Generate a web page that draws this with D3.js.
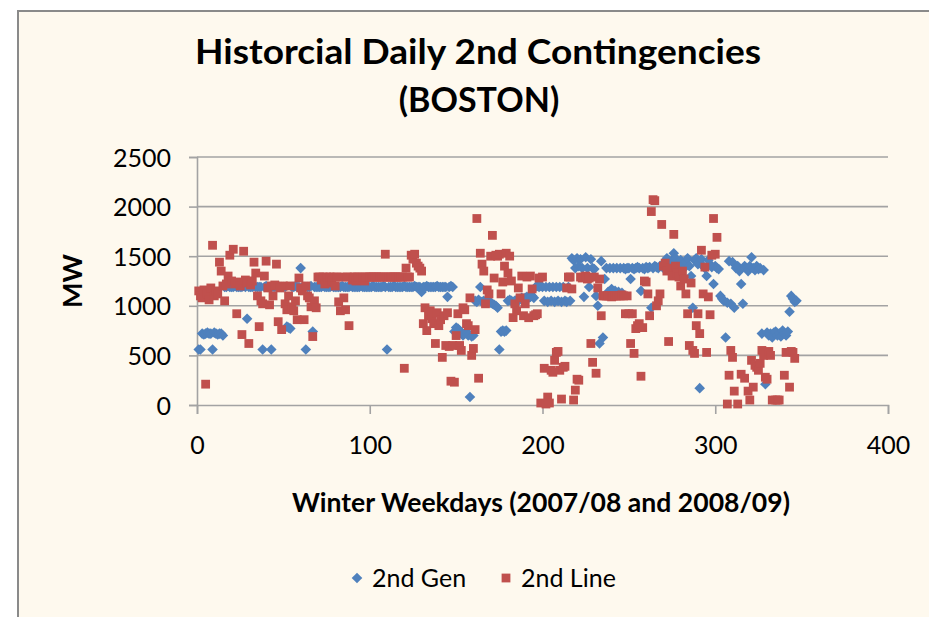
<!DOCTYPE html>
<html><head><meta charset="utf-8">
<script src="https://cdn.jsdelivr.net/npm/d3@7"></script>
<style>
html,body{margin:0;padding:0;background:#fff;}
svg{display:block;}
text{font-family:Lato,"Open Sans",sans-serif;fill:#000;}
</style></head>
<body><svg id="chart" width="929" height="617"></svg>
<script>
const titleLines = ["Historcial Daily 2nd Contingencies", "(BOSTON)"];
const xTitle = "Winter Weekdays (2007/08 and 2008/09)";
const yTitle = "MW";
const xTicks = [0, 100, 200, 300, 400];
const yTicks = [0, 500, 1000, 1500, 2000, 2500];
const seriesNames = ["2nd Gen", "2nd Line"];

// 2nd Gen (MW) for weekday 1..347
const genMW = [
560,560,720,710,720,730,720,720,560,730,
720,710,720,720,700,1190,1190,1200,1190,1190,
1190,1200,1190,1190,1190,1190,1200,1190,870,1190,
1190,1190,1200,1190,1190,1190,1190,560,1190,1200,
1190,1190,560,1190,1190,1190,1200,1190,1190,1190,
1190,790,780,770,1190,1190,1200,1190,1190,1380,
1190,1190,560,1190,1190,1200,740,1190,1190,1190,
1190,1190,1200,1190,1190,1190,1190,1200,1190,1190,
1190,1190,1190,1200,1190,1190,1190,1190,1200,1190,
1190,1190,1190,1190,1200,1190,1190,1190,1190,1190,
1190,1200,1190,1190,1190,1190,1190,1200,1190,560,
1190,1190,1190,1200,1190,1190,1190,1190,1190,1200,
1190,1190,1190,1190,1190,1200,1190,1190,1190,1140,
1190,1190,1200,1190,1190,1190,1190,1190,1200,1190,
1190,1190,1190,1190,1090,1190,1200,1190,740,780,
770,750,720,700,720,740,700,80,690,700,
1050,1040,1060,1190,1040,1050,1040,1060,1050,1030,
1020,1010,1000,980,560,740,750,740,750,1050,
1060,1050,1040,1050,1060,1050,1070,1080,1070,1080,
1090,1080,1090,1100,1080,1190,1200,1190,1200,1190,
1050,1190,1040,1190,1050,1190,1040,1190,1050,1190,
1040,1190,1050,1040,1190,1050,1480,1460,1380,1480,
1400,1470,1380,1090,1490,1380,1190,1470,1380,1370,
1100,1000,620,1450,680,1270,1380,1140,1380,1170,
1380,1150,1380,1140,1380,1130,1380,1370,1380,1380,
1270,1380,1370,1380,1390,1380,1150,1380,1370,1390,
1380,1390,980,1380,1400,1390,1380,1400,1410,1380,
1420,1480,1390,1400,1460,1530,1480,1420,1380,1460,
1400,1380,1440,1480,1400,1300,980,1460,1480,1420,
170,1470,1400,1380,1300,1460,1420,1390,1220,1400,
1380,1370,1100,1070,1050,680,1030,1450,1020,1440,
980,1380,1400,1350,1220,1020,1400,1380,1350,1400,
1490,1380,1360,1400,1370,1380,720,1360,210,730,
700,720,680,730,740,700,720,690,750,720,
700,740,940,1100,1070,1040,1050
];

// 2nd Line (MW) for weekday 1..347 (null = no value)
const lineMW = [
1150,1100,1080,1160,210,1120,1060,1180,1610,1100,
1150,1120,1440,1350,1200,1050,1220,1300,1510,1250,
1570,1220,920,1240,1200,710,1550,1260,1230,620,
1210,1250,1440,1330,1100,790,1050,1020,1300,1450,
1180,1010,1200,1100,1210,1420,840,1180,760,1200,
1020,960,1100,1200,990,950,1050,860,1280,1180,
1150,860,1200,1100,1080,990,690,1050,980,1290,
1290,1260,1290,1220,1290,1230,1290,1250,1290,1200,
1290,1040,950,1290,1080,960,1290,800,1290,1260,
1290,1250,1290,1290,1260,1290,1250,1290,1290,1290,
1290,1290,1290,1290,1290,1290,1290,1290,1520,1290,
1290,1290,1290,1290,1290,1290,1290,1290,1290,370,
1380,1290,1290,1510,1470,1520,1430,1400,1380,1350,
820,980,750,900,950,870,820,620,930,800,
860,480,900,600,930,590,240,600,230,700,
920,600,550,980,960,820,800,1080,500,570,
760,1880,270,1530,1420,1350,1020,1160,1120,1500,
1710,1280,1510,1500,1520,1120,1240,1400,1530,1330,
1500,1250,880,1020,950,1180,1080,1300,900,1020,
1290,880,1300,1170,900,910,920,1280,20,1290,
370,10,80,20,350,330,450,530,540,350,
60,380,390,1180,1290,1290,1170,50,150,260,
250,1290,1280,1290,1300,1270,1280,620,430,1290,
320,1180,1270,900,1100,1100,1100,1100,1100,1090,
1100,1100,1100,1100,1100,1110,1100,920,1100,920,
620,920,520,770,800,820,290,780,1250,1240,
1120,900,1950,2070,2060,1000,1050,1120,1820,1400,
1430,1350,640,1380,1300,1720,1400,1330,1290,1200,
1350,1270,1120,920,600,1230,550,520,800,920,
720,1560,1120,1390,530,1090,910,1510,1880,1520,
1690,null,null,null,null,null,10,300,550,480,
140,null,10,null,310,null,270,null,140,50,
450,180,400,380,350,420,550,500,280,260,
540,500,50,null,50,50,50,null,null,300,
530,null,180,540,530,470,null
];

const colors = {gen: "#4F81BD", line: "#C0504D"};

const svg = d3.select("#chart");

// chart area background + border
svg.append("rect").attr("x", 18).attr("y", 11).attr("width", 940).attr("height", 640)
  .attr("fill", "#FEF9EE").attr("stroke", "#8a8a8a").attr("stroke-width", 2);

const x = d3.scaleLinear().domain([0, 400]).range([197, 888]);
const y = d3.scaleLinear().domain([0, 2500]).range([405, 157]);

// gridlines
svg.append("g").selectAll("line").data(yTicks.filter(v => v > 0)).join("line")
  .attr("x1", x(0)).attr("x2", x(400)).attr("y1", d => y(d)).attr("y2", d => y(d))
  .attr("stroke", "#a3a3a3").attr("stroke-width", 1.6);

// axes
const yAxis = d3.axisLeft(y).tickValues(yTicks).tickSize(8).tickPadding(18).tickFormat(d3.format("d"));
const xAxis = d3.axisBottom(x).tickValues(xTicks).tickSize(9).tickPadding(22).tickFormat(d3.format("d"));

const gy = svg.append("g").attr("transform", `translate(${x(0)},0)`).call(yAxis);
const gx = svg.append("g").attr("transform", `translate(0,${y(0)})`).call(xAxis);
[gy, gx].forEach(g => {
  g.selectAll(".domain").attr("stroke", "#a3a3a3").attr("stroke-width", 1.6);
  g.selectAll(".tick line").attr("stroke", "#a3a3a3").attr("stroke-width", 1.6);
  g.selectAll(".tick text").attr("font-family", "Lato").attr("font-size", 25).attr("fill", "#000");
});
gy.selectAll(".tick text").attr("dy", "0.36em");

const genPts = genMW.map((v, i) => ({d: i + 1, v})).filter(p => p.v != null);
const linePts = lineMW.map((v, i) => ({d: i + 1, v})).filter(p => p.v != null);

const diamond = (cx, cy, r) => `M${cx},${cy - r}L${cx + r},${cy}L${cx},${cy + r}L${cx - r},${cy}Z`;
const square = (cx, cy, r) => `M${cx - r},${cy - r}h${2 * r}v${2 * r}h${-2 * r}Z`;

svg.append("g").selectAll("path").data(genPts).join("path")
  .attr("d", p => diamond(x(p.d), y(p.v), 5.3)).attr("fill", colors.gen);
svg.append("g").selectAll("path").data(linePts).join("path")
  .attr("d", p => square(x(p.d), y(p.v), 4.4)).attr("fill", colors.line);

// titles
const t = svg.append("text").attr("text-anchor", "middle").attr("font-weight", "bold").attr("font-size", 34);
t.append("tspan").attr("x", 478).attr("y", 64).attr("textLength", 566).attr("lengthAdjust", "spacingAndGlyphs").text(titleLines[0]);
t.append("tspan").attr("x", 479).attr("y", 112).text(titleLines[1]);

svg.append("text").attr("text-anchor", "middle").attr("font-weight", "bold").attr("font-size", 26)
  .attr("x", 541).attr("y", 512).attr("textLength", 498).attr("lengthAdjust", "spacingAndGlyphs").text(xTitle);
svg.append("text").attr("text-anchor", "middle").attr("font-weight", "bold").attr("font-size", 27)
  .attr("transform", "translate(82,281) rotate(-90)").text(yTitle);

// legend
const lg = svg.append("g");
lg.append("path").attr("d", diamond(357, 578, 5.3)).attr("fill", colors.gen);
lg.append("text").attr("x", 372).attr("y", 587).attr("font-size", 25).text(seriesNames[0]);
lg.append("path").attr("d", square(506, 578, 4.4)).attr("fill", colors.line);
lg.append("text").attr("x", 521).attr("y", 587).attr("font-size", 25).text(seriesNames[1]);
</script></body></html>
